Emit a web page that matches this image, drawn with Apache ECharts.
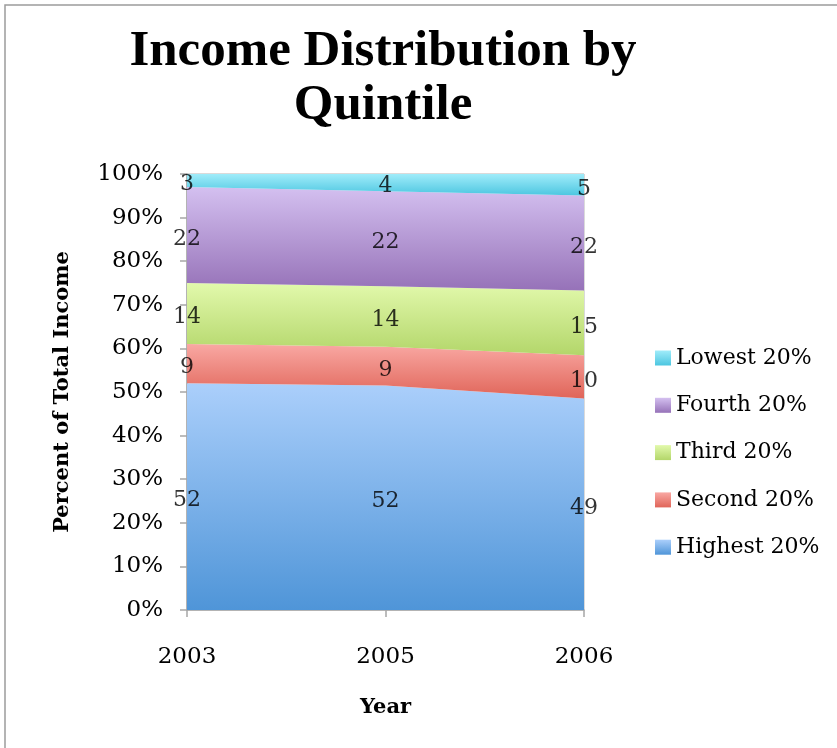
<!DOCTYPE html>
<html>
<head>
<meta charset="utf-8">
<script src="https://cdn.jsdelivr.net/npm/echarts@6/dist/echarts.min.js"></script>
<style>html,body{margin:0;padding:0;background:#fff}#c{width:837px;height:748px}</style>
</head>
<body>
<div id="c"></div>
<script>
const years = ['2003', '2005', '2006'];
const highest = [52, 52, 49];
const second = [9, 9, 10];
const third = [14, 14, 15];
const fourth = [22, 22, 22];
const lowest = [3, 4, 5];
const yTicks = [0, 10, 20, 30, 40, 50, 60, 70, 80, 90, 100];

const seriesDefs = [
  { name: 'Highest 20%', data: highest, top: '#abcffb', bottom: '#4f95d8' },
  { name: 'Second 20%', data: second, top: '#f9a8a3', bottom: '#e06559' },
  { name: 'Third 20%', data: third, top: '#e2f9ac', bottom: '#b3d66a' },
  { name: 'Fourth 20%', data: fourth, top: '#d4c0f0', bottom: '#9672b8' },
  { name: 'Lowest 20%', data: lowest, top: '#a0ecfa', bottom: '#4cc6e0' }
];

const totals = years.map((_, i) => seriesDefs.reduce((s, d) => s + d.data[i], 0));
const grad = (t, b) => new echarts.graphic.LinearGradient(0, 0, 0, 1, [{ offset: 0, color: t }, { offset: 1, color: b }]);

const series = [];
const cum = years.map(() => 0);
const labelPts = [];
seriesDefs.forEach(d => {
  const pct = d.data.map((v, i) => v / totals[i] * 100);
  pct.forEach((p, i) => {
    labelPts.push({ value: [i, cum[i] + p / 2], raw: d.data[i] });
    cum[i] += p;
  });
  series.push({
    name: d.name,
    type: 'line',
    stack: 'total',
    data: pct,
    symbol: 'none',
    lineStyle: { width: 0 },
    itemStyle: { color: grad(d.top, d.bottom) },
    areaStyle: { color: grad(d.top, d.bottom), opacity: 1 },
    emphasis: { disabled: true },
    silent: true
  });
});
series.push({
  type: 'scatter',
  data: labelPts,
  symbolSize: 0,
  silent: true,
  z: 10,
  label: {
    show: true,
    position: 'inside',
    offset: [0, 4],
    formatter: p => String(p.data.raw),
    fontFamily: 'DejaVu Serif',
    fontSize: 22,
    color: '#000'
  }
});

const chart = echarts.init(document.getElementById('c'), null, { renderer: 'canvas' });
chart.setOption({
  backgroundColor: '#fff',
  animation: false,
  title: {
    text: 'Income Distribution by\nQuintile',
    left: 378,
    textAlign: 'center',
    top: 20,
    textStyle: { fontFamily: 'Liberation Serif', fontWeight: 'bold', fontSize: 51, lineHeight: 54, color: '#000' }
  },
  graphic: [{
    type: 'rect',
    shape: { x: 5, y: 5, width: 845, height: 760 },
    style: { fill: 'none', stroke: '#9c9c9c', lineWidth: 1.5 },
    silent: true
  }],
  legend: {
    orient: 'vertical',
    left: 655,
    top: 347,
    padding: 0,
    itemWidth: 16,
    itemHeight: 15,
    itemGap: 25.3,
    icon: 'rect',
    textStyle: { fontFamily: 'DejaVu Serif', fontSize: 22, color: '#000' },
    data: seriesDefs.slice().reverse().map(d => ({ name: d.name, itemStyle: { color: grad(d.top, d.bottom) } }))
  },
  grid: { left: 187, right: 253, top: 174, bottom: 138, show: true, borderColor: '#b5b5b5', borderWidth: 1 },
  xAxis: {
    type: 'category',
    data: years,
    boundaryGap: false,
    name: 'Year',
    nameLocation: 'middle',
    nameGap: 87,
    nameTextStyle: { fontFamily: 'DejaVu Serif', fontWeight: 'bold', fontSize: 21, color: '#000' },
    axisLine: { lineStyle: { color: '#a6a6a6', width: 1.5 } },
    axisTick: { show: true, length: 7, lineStyle: { color: '#a6a6a6', width: 1.5 }, alignWithLabel: true },
    axisLabel: { margin: 36, fontFamily: 'DejaVu Serif', fontSize: 23, color: '#000' },
    splitLine: { show: false }
  },
  yAxis: {
    type: 'value',
    min: yTicks[0],
    max: yTicks[yTicks.length - 1],
    interval: yTicks[1] - yTicks[0],
    name: 'Percent of Total Income',
    nameLocation: 'middle',
    nameGap: 114,
    nameTextStyle: { fontFamily: 'DejaVu Serif', fontWeight: 'bold', fontSize: 21, color: '#000' },
    axisLine: { show: true, lineStyle: { color: '#a6a6a6', width: 1.5 } },
    axisTick: { show: true, length: 7, lineStyle: { color: '#a6a6a6', width: 1.5 } },
    axisLabel: { margin: 24, fontFamily: 'DejaVu Serif', fontSize: 23, color: '#000', formatter: '{value}%' },
    splitLine: { show: false }
  },
  series: series
});
</script>
</body>
</html>
